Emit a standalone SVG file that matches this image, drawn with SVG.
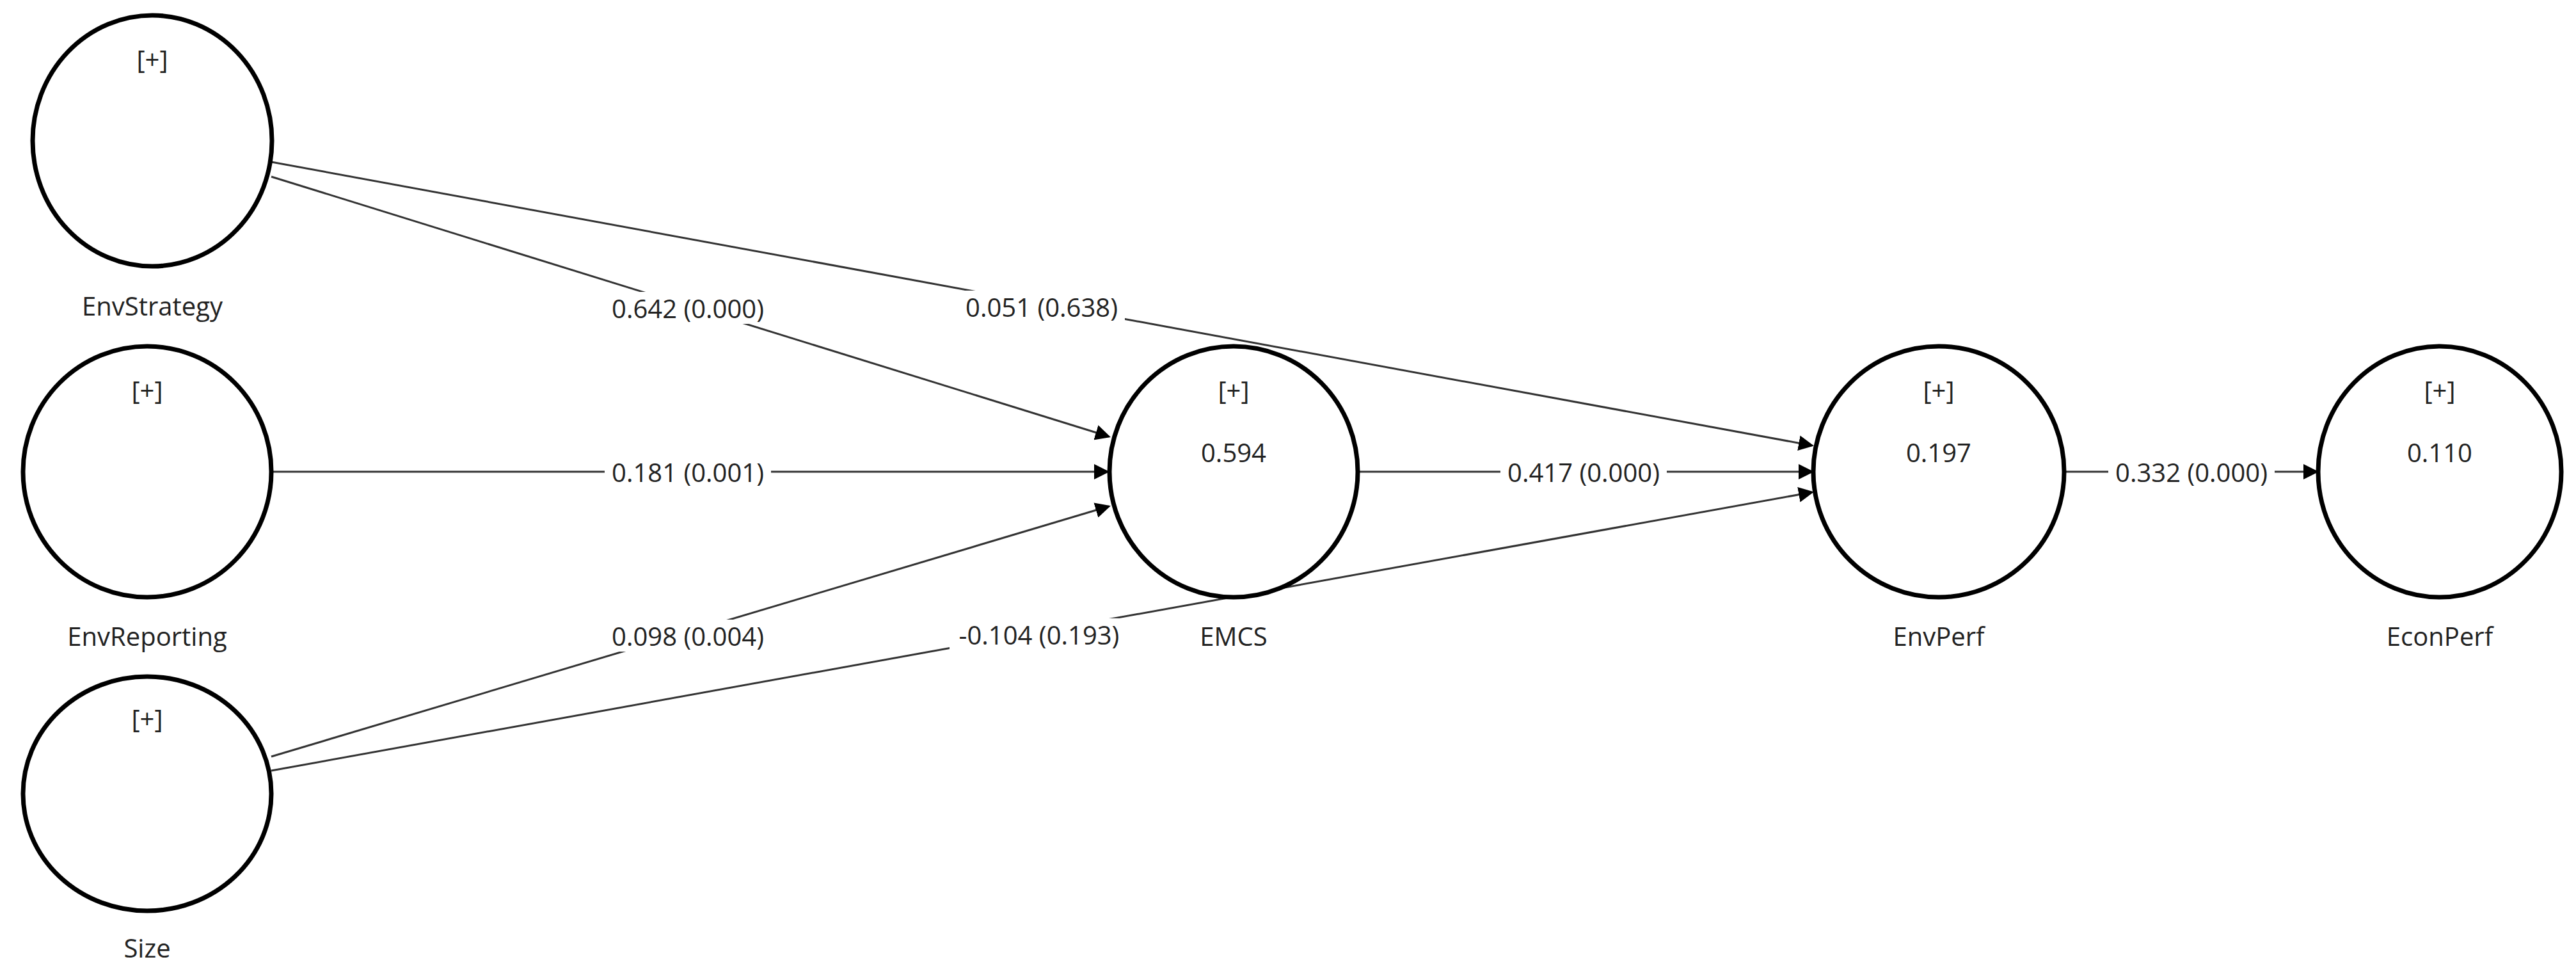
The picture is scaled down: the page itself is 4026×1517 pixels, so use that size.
<svg xmlns="http://www.w3.org/2000/svg" width="4026" height="1517" viewBox="0 0 4026 1517">
<style>
.n{fill:#fff;stroke:#000;stroke-width:7}
.t{font-family:"Open Sans","Noto Sans",sans-serif;font-size:40px;fill:#222;text-anchor:middle;dominant-baseline:central}
.e{stroke:#333;stroke-width:3;fill:none;marker-end:url(#a)}
.bg{fill:#fff}
</style>
<defs><marker id="a" markerWidth="8" markerHeight="8" refX="7" refY="4" orient="auto" markerUnits="strokeWidth"><path d="M0,0L8,4L0,8z" fill="#000"/></marker></defs>
<rect width="4026" height="1517" fill="#fff"/>
<g id="connectors">
<line class="e" x1="424" y1="276" x2="1733" y2="682"/>
<line class="e" x1="424" y1="253" x2="2832" y2="696"/>
<line class="e" x1="424" y1="737" x2="1731" y2="737"/>
<line class="e" x1="424" y1="1182" x2="1733" y2="791"/>
<line class="e" x1="424" y1="1204" x2="2832" y2="769"/>
<line class="e" x1="2122" y1="737" x2="2832" y2="737"/>
<line class="e" x1="3226" y1="737" x2="3621" y2="737"/>
<rect class="bg" x="945" y="456" width="260" height="50"/><text class="t" x="1075" y="481">0.642 (0.000)</text>
<rect class="bg" x="1498" y="454" width="260" height="50"/><text class="t" x="1628" y="479">0.051 (0.638)</text>
<rect class="bg" x="945" y="712" width="260" height="50"/><text class="t" x="1075" y="737">0.181 (0.001)</text>
<rect class="bg" x="945" y="968" width="260" height="50"/><text class="t" x="1075" y="993">0.098 (0.004)</text>
<rect class="bg" x="1484" y="966" width="280" height="50"/><text class="t" x="1624" y="991">-0.104 (0.193)</text>
<rect class="bg" x="2345" y="712" width="260" height="50"/><text class="t" x="2475" y="737">0.417 (0.000)</text>
<rect class="bg" x="3295" y="712" width="260" height="50"/><text class="t" x="3425" y="737">0.332 (0.000)</text>
</g>
<g id="EnvStrategy"><ellipse class="n" cx="238" cy="220" rx="187" ry="196"/><text class="t" x="238" y="92">[+]</text><text class="t" x="238" y="477">EnvStrategy</text></g>
<g id="EnvReporting"><ellipse class="n" cx="230" cy="737" rx="194" ry="196"/><text class="t" x="230" y="609">[+]</text><text class="t" x="230" y="993">EnvReporting</text></g>
<g id="Size"><ellipse class="n" cx="230" cy="1240" rx="194" ry="183"/><text class="t" x="230" y="1122">[+]</text><text class="t" x="230" y="1480">Size</text></g>
<g id="EMCS"><ellipse class="n" cx="1928" cy="737" rx="194" ry="196"/><text class="t" x="1928" y="609">[+]</text><text class="t" x="1928" y="706">0.594</text><text class="t" x="1928" y="993">EMCS</text></g>
<g id="EnvPerf"><ellipse class="n" cx="3030" cy="737" rx="196" ry="196"/><text class="t" x="3030" y="609">[+]</text><text class="t" x="3030" y="706">0.197</text><text class="t" x="3030" y="993">EnvPerf</text></g>
<g id="EconPerf"><ellipse class="n" cx="3813" cy="737" rx="190" ry="196"/><text class="t" x="3813" y="609">[+]</text><text class="t" x="3813" y="706">0.110</text><text class="t" x="3813" y="993">EconPerf</text></g>
</svg>
